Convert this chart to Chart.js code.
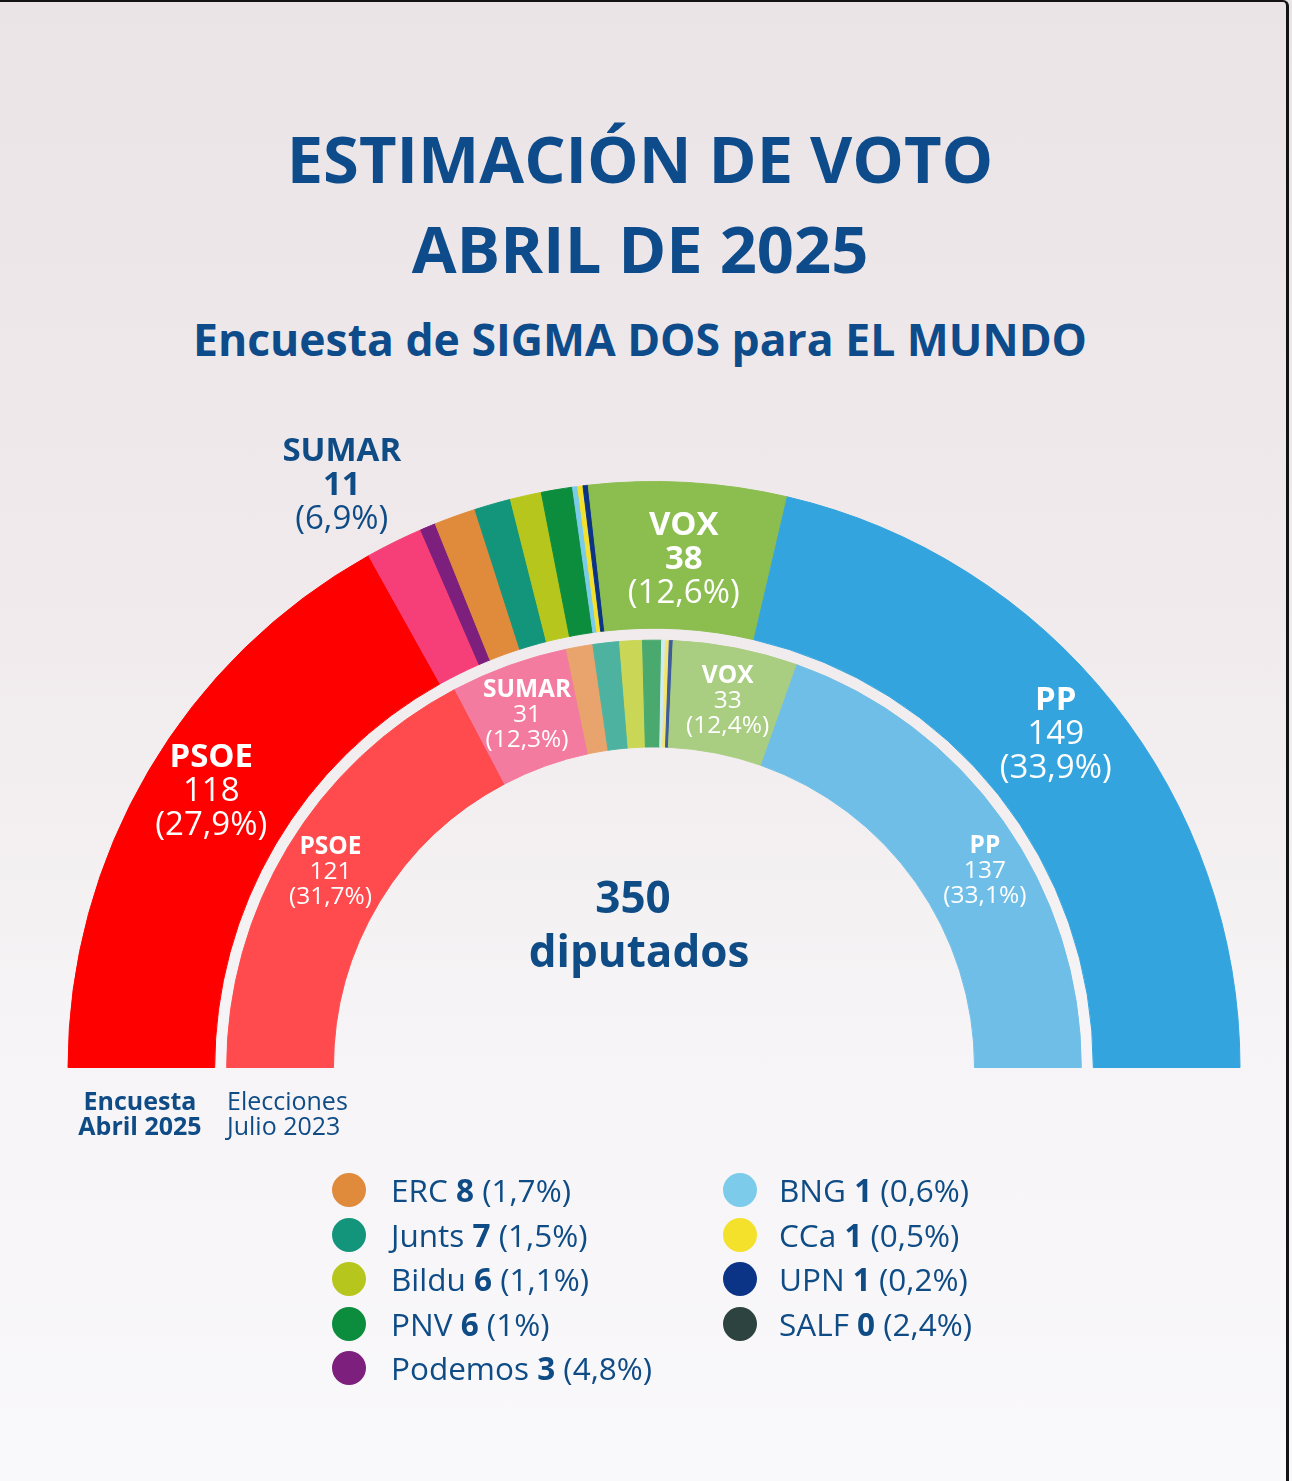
<!DOCTYPE html>
<html lang="es">
<head>
<meta charset="utf-8">
<title>Estimación de voto abril de 2025</title>
<script src="https://cdn.jsdelivr.net/npm/chart.js@4.4.1/dist/chart.umd.min.js"></script>
<style>
  html, body { margin: 0; padding: 0; }
  body {
    width: 1292px; height: 1481px; position: relative; overflow: hidden;
    font-family: "Open Sans", "Noto Sans", sans-serif; color: #0f4c86;
    background: linear-gradient(180deg, #ebe4e6 0%, #f0eaec 40%, #f6f4f6 70%, #f9f8fa 100%);
  }
  .frame {
    position: absolute; left: 0; top: 0; width: 1289px; height: 1481px;
    border-top: 2px solid #141414; border-right: 3px solid #141414;
    border-top-right-radius: 6px; box-sizing: border-box; pointer-events: none;
  }
  .title { position: absolute; left: -6px; width: 1292px; text-align: center; font-weight: 700; color: #0d4b8b; }
  #t1 { top: 113px; font-size: 65px; line-height: 90px; }
  #t3 { top: 309px; font-size: 44.5px; line-height: 60px; }
  canvas { position: absolute; left: 0; top: 0; }
  .ring { position: absolute; font-size: 25px; line-height: 25px; color: #0f4c86; }
  #ringA { left: 50px; top: 1088px; width: 180px; text-align: center; font-weight: 700; }
  #ringB { left: 227px; top: 1088px; }
  #legend { position: absolute; left: 0; top: 0; }
  .item { position: absolute; font-size: 31.5px; line-height: 40px; white-space: nowrap; color: #0f4c86; }
  .item .dot { position: absolute; width: 34px; height: 34px; border-radius: 50%; top: 3px; }
  .item b { font-weight: 700; }
</style>
</head>
<body>
<div class="title" id="t1">ESTIMACIÓN DE VOTO<br>ABRIL DE 2025</div>
<div class="title" id="t3">Encuesta de SIGMA DOS para EL MUNDO</div>
<canvas id="chart" width="1292" height="1481"></canvas>
<div class="ring" id="ringA">Encuesta<br>Abril 2025</div>
<div class="ring" id="ringB">Elecciones<br>Julio 2023</div>
<div id="legend"></div>
<div class="frame"></div>
<script>
// Encuesta abril 2025 (anillo exterior)
const outerParties = ['PSOE', 'SUMAR', 'Podemos', 'ERC', 'Junts', 'Bildu', 'PNV', 'BNG', 'CCa', 'UPN', 'SALF', 'VOX', 'PP'];
const outerSeats = [118, 11, 3, 8, 7, 6, 6, 1, 1, 1, 0, 38, 149];
const outerPct = ['27,9', '6,9', '4,8', '1,7', '1,5', '1,1', '1', '0,6', '0,5', '0,2', '2,4', '12,6', '33,9'];
const outerColors = ['#ff0000', '#f63f78', '#7d1f7c', '#e08b3b', '#12957b', '#b7c61c', '#0b8d3d', '#7ccbea', '#f4e12c', '#0b3487', '#2c4340', '#8bbd4f', '#33a4de'];

// Elecciones julio 2023 (anillo interior)
const innerParties = ['PSOE', 'SUMAR', 'ERC', 'Junts', 'Bildu', 'PNV', 'BNG', 'CCa', 'UPN', 'VOX', 'PP'];
const innerSeats = [121, 31, 7, 7, 6, 5, 1, 1, 1, 33, 137];
const innerPct = ['31,7', '12,3', null, null, null, null, null, null, null, '12,4', '33,1'];
const innerColors = ['#ff4b4d', '#f47ba0', '#e9a36c', '#4db3a0', '#cad655', '#4aa96e', '#cfe9f5', '#f3e66e', '#3e5b9c', '#a9cd81', '#6fbee7'];

const totalSeats = 350;
const legendParties = ['ERC', 'Junts', 'Bildu', 'PNV', 'Podemos', 'BNG', 'CCa', 'UPN', 'SALF'];

/**
 * Labels drawn over the arcs: dataset, party, radial shift, turn (deg) and style.
 */
const arcLabels = [
    { ds: 0, party: 'PSOE', shift: 9, turn: 1.5, size: 33, lh: 34, color: '#ffffff', boldSeats: false },
    { ds: 0, party: 'SUMAR', shift: 148, turn: -1.9, size: 33, lh: 34, color: '#0f4c86', boldSeats: true },
    { ds: 0, party: 'VOX', shift: -4, turn: 0, size: 33, lh: 34, color: '#ffffff', boldSeats: true },
    { ds: 0, party: 'PP', shift: 9, turn: -1.2, size: 33, lh: 34, color: '#ffffff', boldSeats: false },
    { ds: 2, party: 'PSOE', shift: 4, turn: 0, size: 24.5, lh: 25, color: '#ffffff', boldSeats: false },
    { ds: 2, party: 'SUMAR', shift: 1, turn: 0, size: 24.5, lh: 25, color: '#ffffff', boldSeats: false },
    { ds: 2, party: 'VOX', shift: 0, turn: 0.3, size: 24.5, lh: 25, color: '#ffffff', boldSeats: false },
    { ds: 2, party: 'PP', shift: 11, turn: 4.5, size: 24.5, lh: 25, color: '#ffffff', boldSeats: false }
];

const labelPlugin = {
    id: 'arcLabels',
    afterDatasetsDraw(chart) {
        const ctx = chart.ctx;
        ctx.save();
        ctx.textAlign = 'center';
        ctx.textBaseline = 'middle';
        arcLabels.forEach(l => {
            const parties = l.ds === 0 ? outerParties : innerParties;
            const seats = l.ds === 0 ? outerSeats : innerSeats;
            const pct = l.ds === 0 ? outerPct : innerPct;
            const i = parties.indexOf(l.party);
            const arc = chart.getDatasetMeta(l.ds).data[i];
            const a = (arc.startAngle + arc.endAngle) / 2 + l.turn * Math.PI / 180;
            const r = (arc.innerRadius + arc.outerRadius) / 2 + l.shift;
            const x = arc.x + Math.cos(a) * r;
            const y = arc.y + Math.sin(a) * r;
            const lines = [
                { text: parties[i], w: 700 },
                { text: String(seats[i]), w: l.boldSeats ? 700 : 400 },
                { text: '(' + pct[i] + '%)', w: 400 }
            ];
            ctx.fillStyle = l.color;
            lines.forEach((ln, k) => {
                ctx.font = ln.w + ' ' + l.size + 'px "Open Sans"';
                ctx.fillText(ln.text, x, y + (k - 1) * l.lh);
            });
        });
        // centre text
        const c = chart.getDatasetMeta(0).data[0];
        ctx.fillStyle = '#0f4c86';
        ctx.font = '700 44px "Open Sans"';
        ctx.fillText(String(totalSeats), c.x - 21, c.y - 167);
        ctx.fillText('diputados', c.x - 15, c.y - 113);
        ctx.restore();
    }
};

new Chart(document.getElementById('chart'), {
    type: 'doughnut',
    data: {
        labels: outerParties,
        datasets: [
            {
                data: outerSeats,
                backgroundColor: outerColors,
                borderColor: outerColors,
                borderWidth: 1,
                weight: 147
            },
            {
                data: [1],
                backgroundColor: 'rgba(0,0,0,0)',
                borderWidth: 0,
                weight: 12
            },
            {
                data: innerSeats,
                backgroundColor: innerColors,
                borderColor: innerColors,
                borderWidth: 1,
                weight: 107
            }
        ]
    },
    options: {
        responsive: false,
        animation: false,
        events: [],
        rotation: -90,
        circumference: 180,
        cutout: '54.7%',
        layout: { padding: { left: 67, top: 481, right: 51, bottom: 413 } },
        plugins: {
            legend: { display: false },
            tooltip: { enabled: false }
        }
    },
    plugins: [labelPlugin]
});

// legend of the small parties
const legendEl = document.getElementById('legend');
legendParties.forEach((p, n) => {
    const i = outerParties.indexOf(p);
    const col = n < 5 ? 0 : 1;
    const row = n < 5 ? n : n - 5;
    const div = document.createElement('div');
    div.className = 'item';
    div.style.left = (col === 0 ? 391 : 779) + 'px';
    div.style.top = (1170 + row * 44.5) + 'px';
    div.innerHTML = `<span class="dot" style="background:${outerColors[i]};left:${col === 0 ? -59 : -56}px"></span>${p} <b>${outerSeats[i]}</b> (${outerPct[i]}%)`;
    legendEl.appendChild(div);
});
</script>
</body>
</html>
